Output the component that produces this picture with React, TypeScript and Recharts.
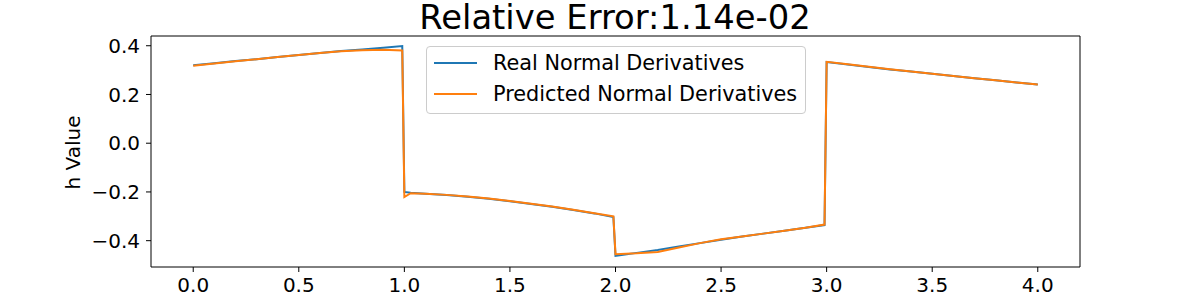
import { LineChart, Line, XAxis, YAxis, Legend, ReferenceLine } from 'recharts';

// boundary coordinate (4 sides of the unit square, unrolled)
const positions = [
  0, 0.1, 0.2, 0.3, 0.4, 0.5, 0.6, 0.7, 0.8, 0.9, 0.99,
  1.0, 1.03, 1.1, 1.2, 1.3, 1.4, 1.5, 1.6, 1.7, 1.8, 1.9, 1.99,
  2.0, 2.1, 2.2, 2.3, 2.4, 2.5, 2.6, 2.7, 2.8, 2.9, 2.99,
  3.0, 3.1, 3.2, 3.3, 3.4, 3.5, 3.6, 3.7, 3.8, 3.9, 4.0,
];

const realDerivatives = [
  0.320, 0.328, 0.337, 0.345, 0.354, 0.362, 0.370, 0.378, 0.385, 0.392, 0.399,
  -0.200, -0.203, -0.207, -0.213, -0.220, -0.228, -0.238, -0.249, -0.261, -0.274, -0.288, -0.303,
  -0.462, -0.450, -0.438, -0.424, -0.410, -0.396, -0.383, -0.371, -0.359, -0.347, -0.336,
  0.333, 0.323, 0.313, 0.303, 0.294, 0.285, 0.276, 0.267, 0.258, 0.249, 0.241,
];

const predictedDerivatives = [
  0.318, 0.327, 0.336, 0.345, 0.354, 0.362, 0.370, 0.377, 0.382, 0.384, 0.381,
  -0.221, -0.205, -0.207, -0.212, -0.219, -0.227, -0.237, -0.248, -0.260, -0.273, -0.287, -0.300,
  -0.456, -0.452, -0.446, -0.428, -0.410, -0.394, -0.383, -0.371, -0.359, -0.347, -0.334,
  0.334, 0.324, 0.314, 0.304, 0.294, 0.285, 0.276, 0.267, 0.258, 0.249, 0.241,
];

const seriesNames = ['Real Normal Derivatives', 'Predicted Normal Derivatives'];
const xTicks = [0, 0.5, 1, 1.5, 2, 2.5, 3, 3.5, 4];
const yTicks = [-0.4, -0.2, 0, 0.2, 0.4];

const data = positions.map((x, i) => ({
  x,
  real: realDerivatives[i],
  predicted: predictedDerivatives[i],
}));

const FONT = '"DejaVu Sans", sans-serif';
const fmt = (v: number) => v.toFixed(1).replace('-', '\u2212');

function MplLegend({ payload }: any) {
  const items = [...(payload || [])].sort(
    (a: any, b: any) => seriesNames.indexOf(a.value) - seriesNames.indexOf(b.value)
  );
  return (
    <div
      style={{
        width: 378,
        height: 65,
        border: '1px solid #cccccc',
        borderRadius: 4,
        background: 'rgba(255,255,255,0.8)',
        fontFamily: FONT,
        fontSize: 20.8,
        color: '#000',
        paddingTop: 1,
        boxSizing: 'content-box',
        whiteSpace: 'nowrap',
      }}
    >
      {items.map((p: any) => (
        <div key={p.value} style={{ display: 'flex', alignItems: 'center', height: 30.6 }}>
          <div style={{ marginLeft: 7, width: 43, height: 2, background: p.color }} />
          <span style={{ marginLeft: 16, lineHeight: '30.6px' }}>{p.value}</span>
        </div>
      ))}
    </div>
  );
}

export default function App() {
  return (
    <div style={{ position: 'absolute', left: 0, top: 0, width: 1200, height: 300, background: '#fff' }}>
      <div
        style={{
          position: 'absolute',
          left: 0,
          top: 1,
          width: 1230,
          textAlign: 'center',
          fontFamily: FONT,
          fontSize: 33.8,
          lineHeight: '34px',
          color: '#000',
        }}
      >
        Relative Error:1.14e-02
      </div>
      <LineChart
        width={1200}
        height={300}
        data={data}
        margin={{ top: 36, right: 120, bottom: 0, left: 71 }}
      >
        <XAxis
          dataKey="x"
          type="number"
          domain={[-0.2, 4.2]}
          ticks={xTicks}
          tickFormatter={fmt}
          allowDataOverflow
          height={33}
          stroke="#000"
          tickSize={5}
          tickMargin={6}
          tick={{ fill: '#000', fontSize: 20, fontFamily: FONT }}
        />
        <YAxis
          type="number"
          domain={[-0.508, 0.44]}
          ticks={yTicks}
          tickFormatter={fmt}
          allowDataOverflow
          width={80}
          stroke="#000"
          tickSize={5}
          tickMargin={6}
          tick={{ fill: '#000', fontSize: 20, fontFamily: FONT }}
          label={(props: any) => {
            const vb = props.viewBox || { x: 71, y: 36, height: 231 };
            const cx = vb.x + 9.3;
            const cy = vb.y + vb.height / 2 + 1;
            return (
              <text
                x={cx}
                y={cy}
                transform={`rotate(-90 ${cx} ${cy})`}
                textAnchor="middle"
                fontFamily={FONT}
                fontSize={20}
                fill="#000"
              >
                h Value
              </text>
            );
          }}
        />
        <ReferenceLine y={0.44} stroke="#000" strokeWidth={1} ifOverflow="extendDomain" />
        <ReferenceLine x={4.2} stroke="#000" strokeWidth={1} ifOverflow="extendDomain" />
        <Legend
          layout="vertical"
          align="center"
          verticalAlign="middle"
          content={<MplLegend />}
          wrapperStyle={{ left: 426, top: 46, width: 380, height: 67 }}
        />
        <Line
          type="linear"
          dataKey="real"
          name={seriesNames[0]}
          stroke="#1f77b4"
          strokeWidth={2}
          dot={false}
          isAnimationActive={false}
        />
        <Line
          type="linear"
          dataKey="predicted"
          name={seriesNames[1]}
          stroke="#ff7f0e"
          strokeWidth={2}
          dot={false}
          isAnimationActive={false}
        />
      </LineChart>
    </div>
  );
}
